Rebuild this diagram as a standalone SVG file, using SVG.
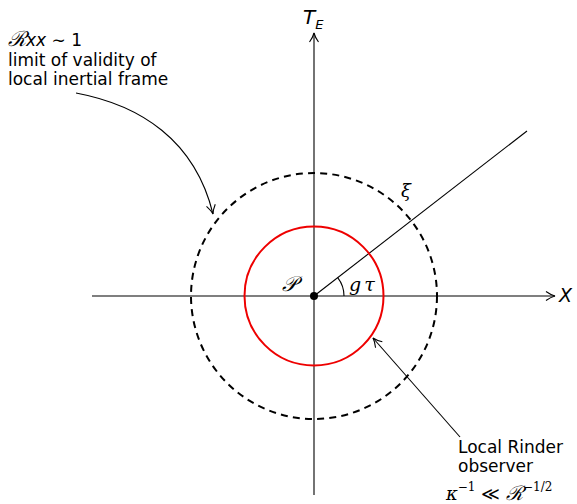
<svg xmlns="http://www.w3.org/2000/svg" width="577" height="504" viewBox="0 0 577 504">
<defs>
<marker id="arr" markerWidth="12" markerHeight="12" refX="10" refY="6" orient="auto" markerUnits="userSpaceOnUse">
<path d="M1,1.5 Q6,5 10,6 Q6,7 1,10.5" fill="none" stroke="#000" stroke-width="1.1"/>
</marker>
</defs>
<style>
.t{font-family:"DejaVu Sans","Liberation Sans",sans-serif;font-size:17px;fill:#000}
.m{font-family:"DejaVu Serif","Liberation Serif",serif;font-style:italic;fill:#000}
.s{font-family:"DejaVu Sans","Liberation Sans",sans-serif;font-style:italic;fill:#000}
.ln{fill:none;stroke:#000;stroke-width:1.1}
</style>
<g id="axes" class="connectors">
<line class="ln" x1="92" y1="296" x2="555" y2="296" marker-end="url(#arr)"/>
<line class="ln" x1="314" y1="495" x2="314" y2="33" marker-end="url(#arr)"/>
<line class="ln" x1="314" y1="296" x2="527" y2="131"/>
<path class="ln" d="M344,296 A30,30 0 0 0 337.7,277.6"/>
<path class="ln" d="M76,93 C140,105 195,140 213,214" marker-end="url(#arr)"/>
<line class="ln" x1="460" y1="437" x2="373" y2="338" marker-end="url(#arr)"/>
</g>
<g id="dashed-circle"><circle cx="314" cy="296" r="123" fill="none" stroke="#000" stroke-width="2" stroke-dasharray="7,5.2"/></g>
<g id="red-circle"><circle cx="314" cy="296" r="69.5" fill="none" stroke="#e00" stroke-width="2"/></g>
<g id="P"><circle cx="314" cy="296" r="4" fill="#000"/>
<text class="m" x="282" y="291" font-size="21">𝒫</text></g>
<g id="labels">
<text class="s" x="303" y="24" font-size="20">T<tspan font-size="13" dy="5">E</tspan></text>
<text class="s" x="559" y="302" font-size="19">X</text>
<text class="m" x="401" y="197" font-size="18">ξ</text>
<text class="m" x="349" y="291" font-size="19">g<tspan dx="3">τ</tspan></text>
<text class="t" x="8" y="46"><tspan class="m" font-size="21">ℛ</tspan><tspan font-style="italic">xx</tspan> ∼ 1</text>
<text class="t" x="8" y="66">limit of validity of</text>
<text class="t" x="8" y="85">local inertial frame</text>
<text class="t" x="458" y="453" font-size="15.5">Local Rinder</text>
<text class="t" x="458" y="472" font-size="15.5">observer</text>
<text class="m" x="446" y="500" font-size="18">κ<tspan font-size="12" dy="-9" font-style="normal">−1</tspan><tspan dy="9" font-style="normal"> ≪ </tspan><tspan font-size="20">ℛ</tspan><tspan font-size="12" dy="-9" font-style="normal">−1/2</tspan></text>
</g>
</svg>
